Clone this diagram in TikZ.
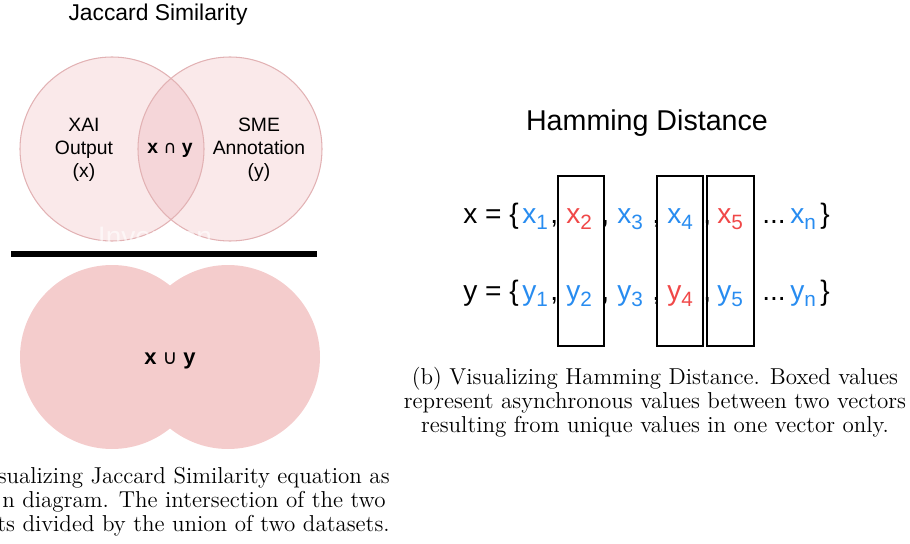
\documentclass[tikz,border=0pt]{standalone}
\usepackage{fontspec}
\newfontfamily\arial{Liberation Sans}
\newfontfamily\dejavu{DejaVu Sans}
\definecolor{vennfill}{RGB}{250,233,234}
\definecolor{vennline}{RGB}{226,178,180}
\definecolor{venncap}{RGB}{245,214,217}
\definecolor{unionfill}{RGB}{244,204,204}
\definecolor{valblue}{RGB}{40,140,240}
\definecolor{valred}{RGB}{240,72,72}
\newcommand{\vsub}[2]{#1\raisebox{-3.5pt}{\fontsize{11.8}{11.8}\selectfont #2}}
\tikzset{
  sectitle/.style={font=\arial\fontsize{13}{15}\selectfont},
  settext/.style={font=\arial\fontsize{11}{13}\selectfont, align=center, inner sep=0pt},
  vecval/.style={font=\arial\fontsize{16}{18}\selectfont, anchor=base west, inner sep=0pt},
  captext/.style={font=\fontsize{13.1}{13.6}\selectfont, inner sep=0pt}
}
\begin{document}
\begin{tikzpicture}[x=0.02cm,y=-0.02cm]
\useasboundingbox (0,0) rectangle (910,544);
\path
(112,149) coordinate (L)
(230,149) coordinate (R)
(112,357) coordinate (UL)
(228,357) coordinate (UR)
;
% Jaccard
\node[sectitle] (jtitle) at (158,15) {Jaccard Similarity};
\fill[vennfill] (L) circle(92) (R) circle(92);
\begin{scope}
\clip (L) circle(92);
\fill[venncap] (R) circle(92);
\end{scope}
\draw[vennline, line width=0.6pt] (L) circle(92) (R) circle(92);
\node[settext] (xai) at (84,150) {XAI\\Output\\(x)};
\node[settext] (sme) at (259,150) {SME\\Annotation\\(y)};
\node[settext] (inter) at (170,150) {\textbf{x} {\dejavu\fontsize{10}{12}\selectfont ∩} \textbf{y}};
\node[font=\arial\fontsize{16}{18}\selectfont, text=white, text opacity=0.6] (wmark) at (155,236) {Invention};
\draw[line width=2.9pt] (11,254)--(317,254);
\fill[unionfill] (UL) circle(92) (UR) circle(92);
\node[settext, font=\arial\fontsize{12.5}{14}\selectfont] (union) at (170,361) {\textbf{x} {\dejavu\fontsize{11.5}{14}\selectfont ∪} \textbf{y}};
\node[captext, anchor=base east] (capa1) at (390,483) {sualizing Jaccard Similarity equation as};
\node[captext, anchor=base east] (capa2) at (386,507) {n diagram. The intersection of the two};
\node[captext, anchor=base east] (capa3) at (390,531) {ts divided by the union of two datasets.};

% Hamming
\node[font=\arial\fontsize{16.3}{19}\selectfont] (htitle) at (647,123) {Hamming Distance};
\draw[line width=0.7pt] (558,176) rectangle (604,346) (657,176) rectangle (703,346) (707,176) rectangle (754,346);
\node[vecval] (xlab) at (463,223) {x = \{};
\node[vecval] (ylab) at (463,300) {y = \{};
\foreach \n/\px/\cx/\cy in {1/522/valblue/valblue, 2/566/valred/valblue, 3/617/valblue/valblue,
  4/667/valblue/valred, 5/717/valred/valblue, n/790/valblue/valblue}{
\node[vecval, text=\cx] (x\n) at (\px,223) {\vsub{x}{\n}};
\node[vecval, text=\cy] (y\n) at (\px,300) {\vsub{y}{\n}};
}
\foreach \px in {550,601,652,703}{
\node[vecval] at (\px,223) {,};
\node[vecval] at (\px,300) {,};
}
\node[vecval] (xdots) at (762,223) {...};
\node[vecval] (ydots) at (762,300) {...};
\node[vecval] (xend) at (820,223) {\}};
\node[vecval] (yend) at (820,300) {\}};
\node[captext, align=center, anchor=north] (capb) at (655,367) {(b) Visualizing Hamming Distance. Boxed values\\
represent asynchronous values between two vectors\\resulting from unique values in one vector only.};
\end{tikzpicture}
\end{document}
